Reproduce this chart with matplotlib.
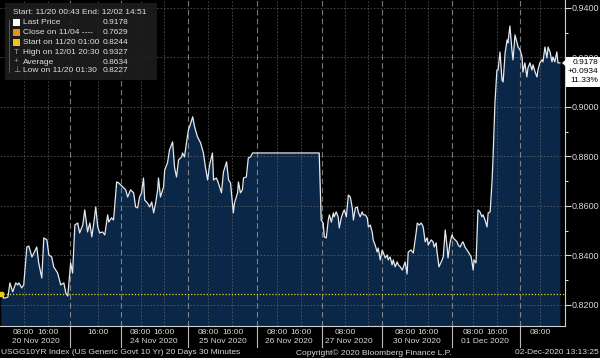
import numpy as np
import matplotlib.pyplot as plt
from matplotlib.patches import Rectangle, Polygon
from matplotlib.transforms import blended_transform_factory

plt.rcParams["font.family"] = ["Liberation Sans", "DejaVu Sans"]

# trading hours since start (weekend squeezed out) and USGG10YR level
hours = [0.0, 1.1, 2.5, 3.2, 4.2, 5.3, 6.0, 6.4, 7.4, 8.1, 9.2, 9.9, 11.0, 11.7, 12.7, 13.4,
         14.5, 15.2, 16.3, 17.0, 18.0, 18.7, 20.1, 21.2, 22.3, 23.0, 23.7, 24.7, 25.4, 26.2,
         27.2, 27.9, 29.0, 29.7, 30.7, 31.5, 32.2, 32.9, 33.6, 34.3, 35.0, 36.0, 36.8, 37.8,
         38.2, 39.2, 39.9, 41.0, 41.7, 43.1, 44.2, 44.9, 45.9, 47.0, 47.7, 48.4, 49.1, 49.8,
         50.5, 50.9, 51.9, 52.7, 53.4, 54.1, 54.8, 55.5, 55.8, 56.5, 57.6, 58.0, 59.0, 59.7,
         60.8, 61.5, 62.2, 62.9, 64.0, 64.3, 65.0, 65.7, 66.4, 67.1, 67.9, 68.6, 69.6, 70.7,
         71.7, 72.4, 73.2, 73.9, 74.9, 75.3, 76.3, 77.0, 78.1, 78.8, 79.9, 80.6, 81.3, 82.3,
         82.7, 83.8, 84.1, 84.8, 85.5, 85.9, 86.9, 87.6, 88.4, 89.1, 112.7, 113.4, 114.1,
         114.5, 115.2, 115.9, 116.3, 117.0, 117.7, 118.0, 118.7, 119.4, 119.8, 120.5, 121.2,
         121.6, 122.3, 123.0, 123.7, 124.4, 124.8, 125.5, 126.2, 126.5, 127.2, 127.9, 128.3,
         129.0, 129.7, 130.1, 130.8, 131.5, 131.8, 132.5, 133.2, 133.6, 134.3, 135.0, 135.4,
         136.1, 136.8, 137.1, 137.8, 138.5, 138.9, 139.6, 140.3, 140.7, 141.4, 142.1, 142.4,
         143.1, 143.8, 144.2, 145.2, 146.0, 147.0, 147.4, 148.1, 148.8, 149.5, 150.2, 150.9,
         151.3, 152.3, 153.0, 153.4, 154.1, 154.4, 155.1, 156.2, 156.6, 157.3, 158.0, 158.3,
         159.0, 159.7, 160.1, 160.8, 161.5, 161.9, 162.6, 163.3, 163.6, 164.3, 165.0, 165.7,
         166.5, 167.2, 167.5, 168.2, 168.9, 169.6, 170.3, 170.7, 171.4, 172.1, 172.5, 173.2,
         173.9, 174.2, 174.9, 175.6, 176.0, 176.7, 177.4, 177.8, 178.5, 179.2, 179.5, 180.2,
         180.9, 181.3, 182.0, 182.7, 183.1, 183.8, 184.5, 184.8, 185.5, 186.2, 186.6, 187.3,
         188.0, 188.4, 189.1, 189.8, 190.1, 190.8, 191.5, 191.9, 192.6, 193.3, 193.7, 194.4,
         195.1, 195.4, 196.1, 196.8, 197.2, 197.9]
price = [0.8244, 0.8227, 0.8232, 0.8289, 0.8253, 0.8289, 0.8281, 0.8289, 0.8269, 0.8281,
         0.8434, 0.8438, 0.8394, 0.8410, 0.8434, 0.8370, 0.8309, 0.8471, 0.8463, 0.8402,
         0.8394, 0.8354, 0.8329, 0.8281, 0.8289, 0.8248, 0.8236, 0.8370, 0.8329, 0.8523,
         0.8531, 0.8491, 0.8523, 0.8584, 0.8495, 0.8531, 0.8475, 0.8531, 0.8596, 0.8515,
         0.8491, 0.8495, 0.8483, 0.8564, 0.8535, 0.8552, 0.8543, 0.8697, 0.8693, 0.8677,
         0.8665, 0.8636, 0.8665, 0.8653, 0.8596, 0.8592, 0.8636, 0.8653, 0.8713, 0.8624,
         0.8612, 0.8596, 0.8616, 0.8572, 0.8612, 0.8665, 0.8713, 0.8636, 0.8677, 0.8745,
         0.8774, 0.8826, 0.8859, 0.8754, 0.8717, 0.8786, 0.8798, 0.8814, 0.8798, 0.8855,
         0.8907, 0.8930, 0.8960, 0.8919, 0.8879, 0.8855, 0.8814, 0.8758, 0.8705, 0.8766,
         0.8814, 0.8705, 0.8713, 0.8693, 0.8653, 0.8737, 0.8778, 0.8705, 0.8693, 0.8572,
         0.8612, 0.8653, 0.8697, 0.8653, 0.8665, 0.8713, 0.8717, 0.8794, 0.8798, 0.8814,
         0.8814, 0.8543, 0.8531, 0.8475, 0.8471, 0.8543, 0.8564, 0.8535, 0.8572, 0.8556,
         0.8576, 0.8556, 0.8511, 0.8552, 0.8576, 0.8584, 0.8556, 0.8644, 0.8636, 0.8592,
         0.8543, 0.8592, 0.8596, 0.8576, 0.8556, 0.8576, 0.8564, 0.8564, 0.8552, 0.8515,
         0.8523, 0.8491, 0.8463, 0.8442, 0.8414, 0.8430, 0.8382, 0.8422, 0.8410, 0.8390,
         0.8402, 0.8382, 0.8394, 0.8362, 0.8382, 0.8354, 0.8374, 0.8362, 0.8354, 0.8341,
         0.8349, 0.8374, 0.8325, 0.8414, 0.8422, 0.8410, 0.8491, 0.8531, 0.8523, 0.8531,
         0.8515, 0.8455, 0.8471, 0.8442, 0.8463, 0.8455, 0.8434, 0.8451, 0.8414, 0.8354,
         0.8382, 0.8394, 0.8503, 0.8430, 0.8390, 0.8451, 0.8483, 0.8471, 0.8463, 0.8455,
         0.8442, 0.8434, 0.8451, 0.8455, 0.8434, 0.8422, 0.8410, 0.8394, 0.8341, 0.8382,
         0.8370, 0.8584, 0.8576, 0.8556, 0.8564, 0.8543, 0.8515, 0.8572, 0.8576, 0.8705,
         0.8786, 0.9016, 0.9149, 0.9149, 0.9222, 0.9109, 0.9101, 0.9218, 0.9271, 0.9259,
         0.9327, 0.9230, 0.9190, 0.9291, 0.9259, 0.9242, 0.9230, 0.9202, 0.9141, 0.9178,
         0.9121, 0.9158, 0.9178, 0.9149, 0.9170, 0.9141, 0.9121, 0.9149, 0.9178, 0.9190,
         0.9182, 0.9242, 0.9198, 0.9242, 0.9222, 0.9182, 0.9202, 0.9182, 0.9222, 0.9178,
         0.9178]

start_price = 0.8244
last_box = ["0.9178", "+0.0934", "11.33%"]

tick_hours = [8.1, 16.6, 34.3, 49.5, 57.6, 73.5, 82.0, 97.9, 106.4, 121.9, 143.1, 151.3,
              167.2, 175.6, 190.8]
tick_labels = ["08:00", "16:00", "16:00", "08:00", "16:00", "08:00", "16:00", "08:00",
               "16:00", "08:00", "08:00", "16:00", "08:00", "16:00", "08:00"]
unlabeled_grid = [130.1]
day_breaks = [24.4, 42.4, 66.4, 90.8, 113.8, 135.0, 159.7, 183.8]
date_labels = ["20 Nov 2020", "24 Nov 2020", "25 Nov 2020", "26 Nov 2020", "27 Nov 2020",
               "30 Nov 2020", "01 Dec 2020"]
date_hours = [12.4, 54.1, 78.5, 102.1, 123.0, 147.4, 171.4]

legend_labels = ["Last Price", "Close on 11/04 ----", "Start on 11/20 01:00",
                 "High on 12/01 20:30", "Average", "Low on 11/20 01:30"]
legend_values = ["0.9178", "0.7629", "0.8244", "0.9327", "0.8634", "0.8227"]

W, H = 600, 358
fx = lambda px: px / W
fy = lambda py: 1 - py / H

fig = plt.figure(figsize=(6, 3.58), dpi=100, facecolor="black")
ax = fig.add_axes([0, fy(326), fx(565), 326 / H])
ax.set_facecolor("black")

ybot, ytop = 0.8115, 0.9432
ax.fill_between(hours, price, ybot, color="#0b2748", zorder=1, lw=0)
ax.plot(hours, price, color="#e4e9ef", lw=0.9, zorder=4)
ax.axhline(start_price, color="#e8d21a", lw=0.9, ls=(0, (1, 1.5)), zorder=3)
ax.plot([hours[0]], [start_price], marker="s", ms=3, color="#e8c81a", zorder=5, clip_on=False)

ax.set_xlim(-0.3, 199.7)
ax.set_ylim(ybot, ytop)

# grid
for y in np.arange(0.82, 0.9401, 0.02):
    ax.axhline(y, color="#707070", lw=0.6, ls=(0, (2, 2)), alpha=0.7, zorder=2)
for h in tick_hours + unlabeled_grid:
    ax.axvline(h, color="#707070", lw=0.6, ls=(0, (2, 2)), alpha=0.7, zorder=2)
tr = blended_transform_factory(ax.transData, ax.transAxes)
for h in day_breaks:
    ax.axvline(h, color="#9a9a9a", lw=0.8, ls=(0, (5, 3)), alpha=0.8, zorder=2)
    ax.plot([h, h], [0, -0.065], transform=tr, color="#bbbbbb", lw=0.8, clip_on=False)

# axes
for s in ["top", "left"]:
    ax.spines[s].set_visible(False)
for s in ["right", "bottom"]:
    ax.spines[s].set_color("#d0d0d0")
    ax.spines[s].set_linewidth(0.8)
ax.yaxis.tick_right()
ax.set_yticks(np.arange(0.82, 0.9401, 0.02))
ax.set_yticklabels(["%.4f" % v for v in np.arange(0.82, 0.9401, 0.02)])
ax.set_yticks(np.arange(0.83, 0.94, 0.02), minor=True)
ax.tick_params(axis="y", which="major", colors="#d8d8d8", labelsize=6.5, length=4, width=0.8, pad=1)
ax.tick_params(axis="y", which="minor", colors="#d8d8d8", length=2, width=0.8)
ax.set_xticks(tick_hours)
ax.set_xticklabels(tick_labels)
ax.tick_params(axis="x", length=0, pad=1.8, labelsize=6, labelcolor="#d8d8d8")
for h, lab in zip(date_hours, date_labels):
    ax.text(h, -0.049, lab, transform=tr, ha="center", va="center", fontsize=6, color="#d8d8d8")

# last price box
fig.add_artist(Rectangle((fx(566), fy(87)), fx(34), 30 / H, transform=fig.transFigure,
                         facecolor="white", edgecolor="none", zorder=10))
fig.add_artist(Polygon([(fx(562), fy(63)), (fx(566.5), fy(59)), (fx(566.5), fy(67))],
                       closed=True, transform=fig.transFigure, facecolor="white",
                       edgecolor="none", zorder=10))
for i, t in enumerate(last_box):
    fig.text(fx(598), fy(63 + i * 8.5), t, ha="right", va="center", fontsize=6,
             color="black", zorder=11)

# legend block
fig.add_artist(Rectangle((fx(5), fy(80)), fx(152), 77 / H, transform=fig.transFigure,
                         facecolor="#1e1e1e", edgecolor="none", alpha=0.9, zorder=8))
fig.text(fx(13), fy(12), "Start: 11/20 00:43 End: 12/02 14:51", fontsize=6,
         color="#e0e0e0", va="center", zorder=9)
fig.add_artist(plt.Line2D([fx(8.5), fx(8.5)], [fy(20), fy(72)], transform=fig.transFigure,
                          color="#666666", lw=0.6, zorder=9))
row_y = [22, 32, 42, 52, 62, 71]
swatch = ["white", "#e8901f", "#f0c419", None, None, None]
symbols = [None, None, None, "T", "+", "\u22a5"]
for i in range(6):
    if swatch[i]:
        fig.add_artist(Rectangle((fx(13), fy(row_y[i] + 3.5)), fx(7), 7 / H,
                                 transform=fig.transFigure, facecolor=swatch[i],
                                 edgecolor="none", zorder=9))
    else:
        fig.text(fx(16.5), fy(row_y[i]), symbols[i], fontsize=6, color="#9a9a9a",
                 ha="center", va="center", zorder=9)
    fig.text(fx(23), fy(row_y[i]), legend_labels[i], fontsize=6, color="#e0e0e0",
             va="center", zorder=9)
    fig.text(fx(103), fy(row_y[i]), legend_values[i], fontsize=6, color="#e0e0e0",
             va="center", zorder=9)

# footer
fig.text(fx(1), fy(353), "USGG10YR Index (US Generic Govt 10 Yr) 20 Days 30 Minutes",
         fontsize=6, color="#d8d8d8", va="center")
fig.text(fx(296), fy(353), "Copyright\u00a9 2020 Bloomberg Finance L.P.", fontsize=6,
         color="#d8d8d8", va="center")
fig.text(fx(599), fy(353), "02-Dec-2020 13:13:25", fontsize=6, color="#d8d8d8",
         ha="right", va="center")

fig.savefig("out.png", dpi=100, facecolor="black")
